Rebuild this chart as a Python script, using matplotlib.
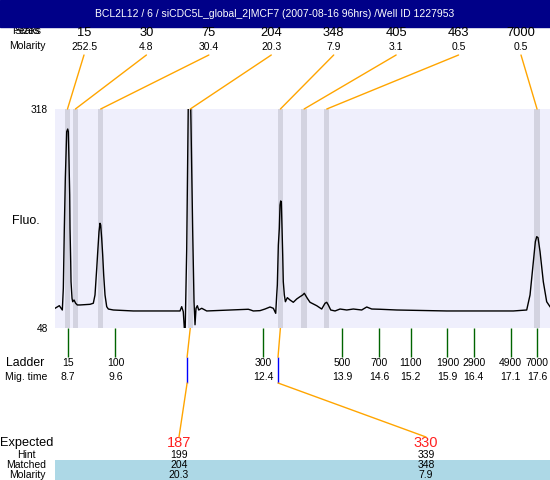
import numpy as np
import matplotlib.pyplot as plt
from matplotlib.patches import Rectangle, ConnectionPatch

plt.rcParams['font.family'] = ['Liberation Sans', 'DejaVu Sans']

title = "BCL2L12 / 6 / siCDC5L_global_2|MCF7 (2007-08-16 96hrs) /Well ID 1227953"

# electropherogram trace: migration time (s) vs fluorescence
trace_time = [
    8.453, 8.535, 8.592, 8.611, 8.630, 8.649, 8.675, 8.694, 8.706, 8.719, 8.732,
    8.738, 8.751, 8.757, 8.776, 8.789, 8.814, 8.845, 8.876, 8.928, 9.117, 9.180,
    9.212, 9.245, 9.264, 9.288, 9.307, 9.320, 9.339, 9.358, 9.377, 9.402, 9.434,
    9.465, 9.560, 9.939, 10.825, 10.857, 10.887, 10.920,
    10.952, 10.983, 11.006, 11.025, 11.034, 11.066, 11.091, 11.110, 11.129,
    11.154, 11.180, 11.237, 11.332,
    12.121, 12.166, 12.216, 12.343, 12.438, 12.533, 12.596, 12.641,
    12.660, 12.672, 12.691, 12.710, 12.723, 12.736, 12.748, 12.761, 12.774,
    12.785, 12.805, 12.825,
    12.862, 12.913, 12.975, 13.040, 13.102, 13.153, 13.184, 13.241, 13.292,
    13.419, 13.514, 13.577, 13.609, 13.639, 13.685, 13.767, 13.862, 13.989,
    14.114, 14.273, 14.368, 14.463, 14.620, 14.937, 15.252, 15.886, 17.150,
    17.404, 17.467, 17.530, 17.568, 17.594, 17.619, 17.657, 17.719, 17.783, 17.846]
trace_fluo = [
    72.3, 75.5, 70.2, 96.9, 170.9, 232.6, 290.0, 293.3, 290.0, 253.0, 212.0,
    170.9, 129.7, 105.1, 84.6, 80.4, 82.5, 78.5, 76.4, 76.4, 77.2, 78.5,
    88.7, 121.6, 142.1, 166.7, 177.1, 175.0, 158.6, 138.0, 113.3, 88.7, 74.3,
    71.4, 70.2, 69.0, 69.0, 74.3, 68.1, 35.0,
    144.2, 330.0, 430.0, 330.0, 298.3, 166.7, 80.4, 52.0, 72.3,
    75.5, 70.2, 72.3, 69.0,
    71.1, 70.2, 69.0, 69.4, 71.4, 73.9, 72.3, 66.1,
    88.7, 101.0, 150.3, 170.9, 199.6, 204.6, 203.7, 170.9, 138.0,
    105.1, 88.7, 80.4,
    85.4, 82.5, 79.7, 83.8, 86.6, 88.7, 90.8, 84.6, 79.7,
    75.5, 71.4, 78.5, 79.7, 76.4, 70.2, 69.0, 71.4, 70.2,
    71.4, 70.2, 73.9, 71.4, 71.1, 70.2, 69.8, 69.0, 69.0,
    70.2, 88.7, 129.7, 154.4, 160.6, 159.3, 142.1, 105.1, 80.4, 74.3]
fluo_range = [48, 318]
time_range = [8.453, 17.846]

# detected peaks
peak_sizes = [15, 30, 75, 204, 348, 405, 463, 7000]
peak_molarity = [252.5, 4.8, 30.4, 20.3, 7.9, 3.1, 0.5, 0.5]
peak_time = [8.69, 8.84, 9.32, 11.02, 12.73, 13.18, 13.61, 17.60]

# ladder
ladder_sizes = [15, 100, 300, 500, 700, 1100, 1900, 2900, 4900, 7000]
ladder_time = [8.7, 9.6, 12.4, 13.9, 14.6, 15.2, 15.9, 16.4, 17.1, 17.6]

# expected fragments and their matches
expected = [187, 330]
expected_time = [10.96, 12.685]
hint = [199, 339]
matched = [204, 348]
matched_molarity = [20.3, 7.9]
matched_idx = [3, 4]

fig = plt.figure(figsize=(5.5, 4.8), dpi=100)

# overlay in pixel units for the header / footer text
ov = fig.add_axes([0, 0, 1, 1])
ov.set_xlim(0, 550)
ov.set_ylim(480, 0)
ov.axis('off')

# title bar
ov.add_patch(Rectangle((0, 0), 550, 27, color='#000088', zorder=3))
ov.text(275, 14, title, color='white', ha='center', va='center',
        fontsize=7.5, zorder=4)

# header rows (the two header words overprint each other in the original)
ov.text(27, 31, 'Peaks', ha='center', va='center', fontsize=7.5, zorder=1)
ov.text(27, 31, 'Sizes', ha='center', va='center', fontsize=7.5, zorder=1)
ov.text(27, 46, 'Molarity', ha='center', va='center', fontsize=7.5)
label_x = np.linspace(84, 521, len(peak_sizes))
for x, s, m in zip(label_x, peak_sizes, peak_molarity):
    ov.text(x, 33, str(s), ha='center', va='center', fontsize=9.3)
    ov.text(x, 47, str(m), ha='center', va='center', fontsize=7.5)

# main electropherogram
ax = fig.add_axes([55 / 550, 1 - 328 / 480, 495 / 550, 219 / 480])
ax.set_facecolor('#EFEFFC')
ax.set_xlim(time_range)
ax.set_ylim(fluo_range)
for t in peak_time:
    ax.axvspan(t - 0.05, t + 0.05, color='#D3D3E0', lw=0)
ax.plot(trace_time, trace_fluo, color='black', lw=1)
for sp in ax.spines.values():
    sp.set_visible(False)
ax.set_xticks([])
ax.set_yticks(fluo_range)
ax.tick_params(axis='y', length=0, pad=5, labelsize=7.3)
ov.text(26, 221, 'Fluo.', ha='center', va='center', fontsize=9)

# connectors from peak labels to bands
for x, t in zip(label_x, peak_time):
    con = ConnectionPatch(xyA=(x, 55), coordsA='data', axesA=ov,
                          xyB=(t, fluo_range[1]), coordsB='data', axesB=ax,
                          color='orange', lw=1)
    fig.add_artist(con)

# ladder strip below the trace (y in pixel rows)
lad = fig.add_axes([55 / 550, 1 - 390 / 480, 495 / 550, 62 / 480])
lad.set_xlim(time_range)
lad.set_ylim(390, 328)
lad.axis('off')
lad.vlines(ladder_time, 328, 357, color='#006400', lw=1)
for t, s in zip(ladder_time, ladder_sizes):
    lad.text(t, 363, str(s), ha='center', va='center', fontsize=7.5)
    lad.text(t, 377, str(t), ha='center', va='center', fontsize=7.5)
ov.text(25, 363, 'Ladder', ha='center', va='center', fontsize=8.8)
ov.text(26, 377, 'Mig. time', ha='center', va='center', fontsize=7.5)

lad.vlines(expected_time, 357, 383, color='blue', lw=1)
for i, t in zip(matched_idx, expected_time):
    lad.plot([peak_time[i], t], [328, 357], color='orange', lw=1)

# bottom table
ov.add_patch(Rectangle((55, 460), 495, 20, color='#ADD8E6', lw=0))
ov.text(0, 443, 'Expected', ha='left', va='center', fontsize=9.2)
ov.text(26, 455, 'Hint', ha='center', va='center', fontsize=7.5)
ov.text(26, 465, 'Matched', ha='center', va='center', fontsize=7.5)
ov.text(27, 474.5, 'Molarity', ha='center', va='center', fontsize=7.5)
col_x = [179, 426]
for x, t, e, h, mt, mm in zip(col_x, expected_time, expected, hint,
                              matched, matched_molarity):
    ov.text(x, 443, str(e), color='#FF2020', ha='center', va='center',
            fontsize=10.5)
    ov.text(x, 455, str(h), ha='center', va='center', fontsize=7.5)
    ov.text(x, 465, str(mt), ha='center', va='center', fontsize=7.5)
    ov.text(x, 474.5, str(mm), ha='center', va='center', fontsize=7.5)
    con = ConnectionPatch(xyA=(t, 383), coordsA='data', axesA=lad,
                          xyB=(x, 437), coordsB='data', axesB=ov,
                          color='orange', lw=1)
    fig.add_artist(con)

fig.savefig('out.png', dpi=100)
